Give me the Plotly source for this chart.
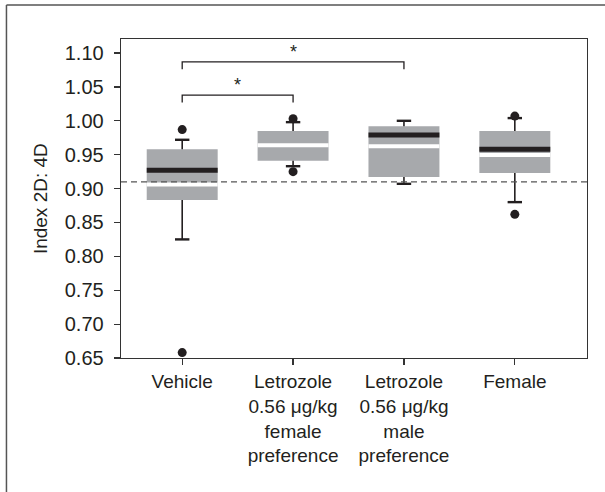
import plotly.graph_objects as go

categories = ["Vehicle",
              "Letrozole<br>0.56 \u03bcg/kg<br>female<br>preference",
              "Letrozole<br>0.56 \u03bcg/kg<br>male<br>preference",
              "Female"]
lower_fence = [0.825, 0.933, 0.907, 0.880]
q1 = [0.883, 0.941, 0.917, 0.923]
median = [0.927, None, 0.979, 0.958]
mean = [0.906, 0.964, 0.9625, 0.9495]
q3 = [0.958, 0.985, 0.992, 0.985]
upper_fence = [0.972, 0.998, 1.000, 1.004]
outlier_group = [0, 0, 1, 1, 3, 3]
outlier_value = [0.987, 0.658, 1.003, 0.925, 1.007, 0.862]
reference_line = 0.91
bracket_from = [0, 0]
bracket_to = [1, 2]
bracket_y = [1.038, 1.087]
bracket_label = ["*", "*"]

pos = list(range(len(categories)))
BOX_W = 0.64
CAP_W = 0.13
TXT = "#231f20"
FONT = "Liberation Sans, Arial, sans-serif"
FS = 19

fig = go.Figure()

# boxes (interquartile range)
fig.add_trace(go.Bar(
    x=pos, base=q1, y=[b - a for a, b in zip(q1, q3)], width=BOX_W,
    marker=dict(color="#a7a9ac", line=dict(width=0)), hoverinfo="skip"))

# whiskers
wx, wy = [], []
for i in pos:
    wx += [i, i, None, i, i, None]
    wy += [q3[i], upper_fence[i], None, q1[i], lower_fence[i], None]
fig.add_trace(go.Scatter(x=wx, y=wy, mode="lines",
                         line=dict(color=TXT, width=1.6), hoverinfo="skip"))
# caps
cx, cy = [], []
for i in pos:
    for v in (upper_fence[i], lower_fence[i]):
        cx += [i - CAP_W / 2, i + CAP_W / 2, None]
        cy += [v, v, None]
fig.add_trace(go.Scatter(x=cx, y=cy, mode="lines",
                         line=dict(color=TXT, width=2.4), hoverinfo="skip"))

# mean (white) lines
mx, my = [], []
for i in pos:
    mx += [i - BOX_W / 2, i + BOX_W / 2, None]
    my += [mean[i], mean[i], None]
fig.add_trace(go.Scatter(x=mx, y=my, mode="lines",
                         line=dict(color="white", width=4), hoverinfo="skip"))

# median (black) lines
dx, dy = [], []
for i in pos:
    if median[i] is None:
        continue
    dx += [i - BOX_W / 2, i + BOX_W / 2, None]
    dy += [median[i], median[i], None]
fig.add_trace(go.Scatter(x=dx, y=dy, mode="lines",
                         line=dict(color=TXT, width=5), hoverinfo="skip"))

# outliers
fig.add_trace(go.Scatter(x=outlier_group, y=outlier_value, mode="markers",
                         marker=dict(color=TXT, size=9), hoverinfo="skip"))

# significance brackets
DROP = 0.011
bx, by = [], []
for a, b, y in zip(bracket_from, bracket_to, bracket_y):
    bx += [a, a, b, b, None]
    by += [y - DROP, y, y, y - DROP, None]
fig.add_trace(go.Scatter(x=bx, y=by, mode="lines",
                         line=dict(color=TXT, width=1.3), hoverinfo="skip"))
for a, b, y, t in zip(bracket_from, bracket_to, bracket_y, bracket_label):
    fig.add_annotation(x=(a + b) / 2, y=y, text=t, showarrow=False,
                       yanchor="bottom", yshift=-2,
                       font=dict(size=18, color=TXT, family=FONT))

# y-axis title
fig.add_annotation(xref="paper", yref="paper", x=-0.1725, y=0.5,
                   text="Index 2D: 4D", textangle=-90, showarrow=False,
                   xanchor="center", yanchor="middle",
                   font=dict(size=FS, color=TXT, family=FONT))

# reference dashed line
fig.add_shape(type="line", xref="paper", x0=0, x1=1, yref="y",
              y0=reference_line, y1=reference_line,
              line=dict(color="#555555", width=1.2, dash="6px,4px"))

# outer frame (only top and left edges visible in the crop)
FRAME = dict(color="#555555", width=1.5)
fig.add_shape(type="line", xref="paper", yref="paper",
              x0=-0.2458, x1=1.2, y0=1.1068, y1=1.1068, line=FRAME, layer="below")
fig.add_shape(type="line", xref="paper", yref="paper",
              x0=-0.2458, x1=-0.2458, y0=-0.5, y1=1.1068, line=FRAME, layer="below")

fig.update_layout(
    width=605, height=492,
    margin=dict(l=121, r=18, t=39, b=134, pad=0),
    paper_bgcolor="white", plot_bgcolor="white",
    showlegend=False,
    font=dict(family=FONT, size=FS, color=TXT),
    xaxis=dict(range=[-0.552, 3.651], tickvals=pos, ticktext=categories,
               showline=True, linecolor="#333333", linewidth=1.3, mirror=True,
               ticks="outside", ticklen=6, tickwidth=1.2, tickcolor="#333333",
               showgrid=False, zeroline=False, tickangle=0, automargin=False,
               tickfont=dict(size=FS)),
    yaxis=dict(range=[0.65, 1.1207], tick0=0.65, dtick=0.05, tickformat=".2f",
               showline=True, linecolor="#333333", linewidth=1.3, mirror=True,
               ticks="outside", ticklen=6, tickwidth=1.2, tickcolor="#333333",
               showgrid=False, zeroline=False, automargin=False,
               ticklabelstandoff=6,
               tickfont=dict(size=20)),
)

fig.write_html("out.html",
               config={"displayModeBar": False, "staticPlot": True},
               post_script="document.body.style.margin='0';"
                           "document.body.style.overflow='hidden';")
